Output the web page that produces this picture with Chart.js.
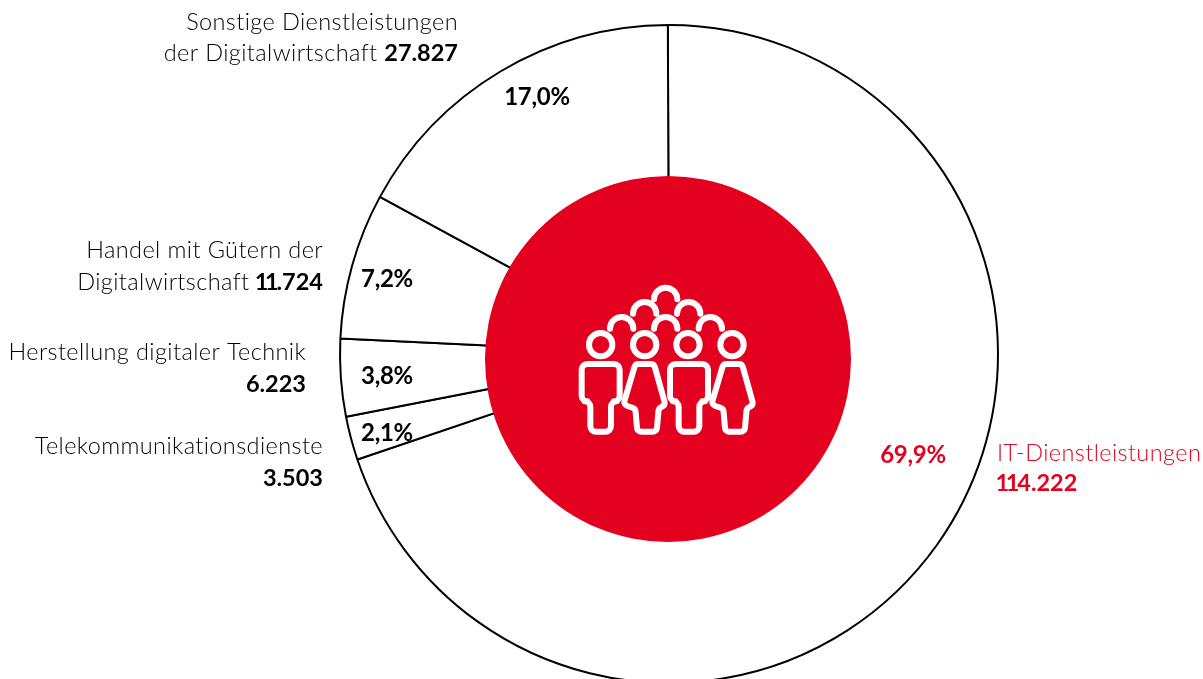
<!DOCTYPE html>
<html lang="de">
<head>
<meta charset="utf-8">
<title>Digitalwirtschaft</title>
<script src="https://cdn.jsdelivr.net/npm/chart.js@4"></script>
<style>
    html, body { margin: 0; padding: 0; background: #fff; overflow: hidden; }
    #wrap { width: 1203px; height: 679px; overflow: hidden; }
    canvas { display: block; }
</style>
</head>
<body>
<div id="wrap"><canvas id="donutChart" width="1203" height="720"></canvas></div>
<script>
const categories = ['IT-Dienstleistungen', 'Telekommunikationsdienste', 'Herstellung digitaler Technik', 'Handel mit Gütern der Digitalwirtschaft', 'Sonstige Dienstleistungen der Digitalwirtschaft'];
const values = [114222, 3503, 6223, 11724, 27827];
const shares = [69.9, 2.1, 3.8, 7.2, 17.0];

const RED = '#e4001f';
const DARK = '#000';
const FONT = 'Lato';

// where the texts sit, same order as categories
const shareSpots = [[913, 455], [387, 433], [387, 376], [387, 279], [537, 97]];
const nameSpots = [
    { x: 997, align: 'left', color: RED, lines: [{ y: 461, text: 'IT-Dienstleistungen' }, { y: 491, num: true }] },
    { x: 323, align: 'right', color: DARK, lines: [{ y: 454, text: 'Telekommunikationsdienste' }, { y: 486, num: true }] },
    { x: 306, align: 'right', color: DARK, lines: [{ y: 360, text: 'Herstellung digitaler Technik' }, { y: 392, num: true }] },
    { x: 323, align: 'right', color: DARK, lines: [{ y: 258, text: 'Handel mit Gütern der' }, { y: 290, text: 'Digitalwirtschaft', num: true }] },
    { x: 458, align: 'right', color: DARK, lines: [{ y: 30, text: 'Sonstige Dienstleistungen' }, { y: 61, text: 'der Digitalwirtschaft', num: true }] }
];

// the red disc sits slightly off the ring's centre in the original
const disc = { dx: -1, dy: 5, r: 183 };

function fmtNumber(v) {
    return v.toLocaleString('de-DE');
}

function fmtShare(v) {
    return v.toFixed(1).replace('.', ',') + '%';
}

function roundPoly(ctx, pts, r) {
    ctx.beginPath();
    let n = pts.length;
    ctx.moveTo((pts[0][0] + pts[n - 1][0]) / 2, (pts[0][1] + pts[n - 1][1]) / 2);
    for (let i = 0; i < n; i++) {
        let p = pts[i], q = pts[(i + 1) % n];
        ctx.arcTo(p[0], p[1], q[0], q[1], r);
    }
    ctx.closePath();
    ctx.stroke();
}

function drawMan(ctx, dx) {
    roundPoly(ctx, [[65 + dx, 282], [179 + dx, 282], [179 + dx, 394], [153 + dx, 394], [153 + dx, 485], [91 + dx, 485], [91 + dx, 394], [65 + dx, 394]], 17);
}

function drawWoman(ctx, dx) {
    roundPoly(ctx, [[226 + dx, 282], [282 + dx, 282], [316 + dx, 404], [296 + dx, 416], [290 + dx, 485], [232 + dx, 485], [226 + dx, 416], [190 + dx, 404]], 13);
}

function drawIcon(ctx) {
    // icon traced in a 210x180 box, at 3x
    ctx.save();
    ctx.translate(560, 270);
    ctx.scale(1 / 3, 1 / 3);
    ctx.strokeStyle = '#fff';
    ctx.lineWidth = 18;
    ctx.lineCap = 'round';
    ctx.lineJoin = 'round';
    [122, 254, 384, 516].forEach((x) => {
        ctx.beginPath();
        ctx.arc(x, 224, 35, 0, Math.PI * 2);
        ctx.stroke();
    });
    [[317, 88], [254, 131], [386, 131], [185, 176], [317, 176], [451, 176]].forEach((c) => {
        ctx.beginPath();
        ctx.arc(c[0], c[1], 35, Math.PI, 0);
        ctx.stroke();
    });
    drawMan(ctx, 0);
    drawWoman(ctx, 0);
    drawMan(ctx, 265);
    drawWoman(ctx, 264);
    ctx.restore();
}

// Lato's figures are tabular, the ones in the original are narrower
function numAdvance(ctx, ch) {
    return ctx.measureText(ch).width - (ch === '1' ? 3.5 : 0);
}

function numWidth(ctx, num) {
    let w = 0;
    for (let ch of num) w += numAdvance(ctx, ch);
    return w;
}

function drawNum(ctx, num, x, y) {
    for (let ch of num) {
        ctx.fillText(ch, ch === '1' ? x - 1.5 : x, y);
        x += numAdvance(ctx, ch);
    }
}

function drawName(ctx, spot, value) {
    ctx.fillStyle = spot.color;
    ctx.textBaseline = 'alphabetic';
    ctx.textAlign = 'left';
    spot.lines.forEach((line) => {
        let light = '300 23.5px ' + FONT;
        let bold = '700 23.5px ' + FONT;
        let text = line.text ? line.text + (line.num ? ' ' : '') : '';
        let num = line.num ? fmtNumber(value) : '';
        ctx.font = light;
        ctx.letterSpacing = '0.4px';
        let w1 = ctx.measureText(text).width;
        let x0 = 0;
        ctx.font = bold;
        ctx.letterSpacing = '0px';
        let w2 = numWidth(ctx, num);
        x0 = spot.align === 'right' ? spot.x - w1 - w2 : spot.x;
        ctx.font = light;
        ctx.letterSpacing = '0.4px';
        ctx.fillText(text, x0, line.y);
        ctx.font = bold;
        ctx.letterSpacing = '0px';
        drawNum(ctx, num, x0 + w1, line.y);
    });
}

const donutExtras = {
    id: 'donutExtras',
    afterDatasetsDraw(chart) {
        let ctx = chart.ctx;
        let arc = chart.getDatasetMeta(0).data[0];
        ctx.save();
        ctx.fillStyle = RED;
        ctx.beginPath();
        ctx.arc(arc.x + disc.dx, arc.y + disc.dy, disc.r, 0, Math.PI * 2);
        ctx.fill();
        drawIcon(ctx);
        shares.forEach((s, i) => {
            ctx.font = '700 24px ' + FONT;
            ctx.letterSpacing = '-0.3px';
            ctx.fillStyle = i === 0 ? RED : DARK;
            ctx.textAlign = 'center';
            ctx.textBaseline = 'middle';
            ctx.fillText(fmtShare(s), shareSpots[i][0], shareSpots[i][1]);
            drawName(ctx, nameSpots[i], values[i]);
        });
        ctx.restore();
    }
};

new Chart(document.getElementById('donutChart').getContext('2d'), {
    type: 'doughnut',
    data: {
        labels: categories,
        datasets: [{
            data: values,
            backgroundColor: '#fff',
            borderColor: '#000',
            borderWidth: 2,
            borderAlign: 'center'
        }]
    },
    options: {
        responsive: false,
        animation: false,
        cutout: 150,
        rotation: -0.2,
        layout: { padding: { left: 339, right: 204, top: 24, bottom: 36 } },
        plugins: {
            legend: { display: false },
            tooltip: { enabled: false }
        }
    },
    plugins: [donutExtras]
});
</script>
</body>
</html>
